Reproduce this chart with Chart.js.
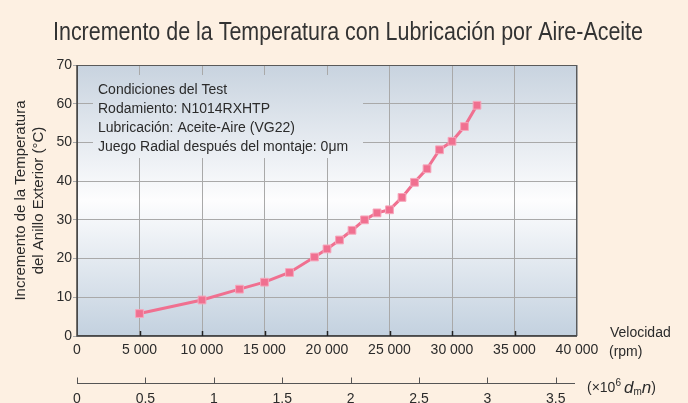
<!DOCTYPE html>
<html>
<head>
<meta charset="utf-8">
<script src="https://cdn.jsdelivr.net/npm/chart.js@4"></script>
<style>
  html, body { margin: 0; padding: 0; background: #fdf0e2; }
  canvas { display: block; }
</style>
</head>
<body>
<canvas id="c" width="688" height="403"></canvas>
<script>
// Outer-ring temperature rise vs. shaft speed (oil-air lubrication)
const speedRpm = [5000, 10000, 13000, 15000, 17000, 19000, 20000, 21000, 22000, 23000,
                  24000, 25000, 26000, 27000, 28000, 29000, 30000, 31000, 32000];
const tempRise = [5.8, 9.3, 12.1, 13.9, 16.4, 20.4, 22.5, 24.8, 27.3, 30.0,
                  31.8, 32.6, 35.8, 39.7, 43.2, 48.1, 50.3, 54.1, 59.6];

const speedTicks = [0, 5000, 10000, 15000, 20000, 25000, 30000, 35000, 40000];
const tempTicks = [0, 10, 20, 30, 40, 50, 60, 70];
const dmnTicks = [0, 0.5, 1, 1.5, 2, 2.5, 3, 3.5];
const dmnAtMaxSpeed = 3.655; // dm·n (×10^6) reached at 40 000 rpm

const titleText = 'Incremento de la Temperatura con Lubricación por Aire-Aceite';
const yTitle = ['Incremento de la Temperatura', 'del Anillo Exterior (°C)'];
const testConditions = [
  'Condiciones del Test',
  'Rodamiento: N1014RXHTP',
  'Lubricación: Aceite-Aire (VG22)',
  'Juego Radial después del montaje: 0μm'
];

const FONT = "'Liberation Sans', Arial, Helvetica, sans-serif";
const NARROW = "'Liberation Sans Narrow', 'Liberation Sans', Arial, sans-serif";
const TEXT = '#2b2b2b';
const GRID = '#a9a9a9';
const FRAME = '#5a5a5a';

function spaced(v) {
  return String(v).replace(/\B(?=(\d{3})+(?!\d))/g, ' ');
}

let areaGradient = null;
function plotGradient(ctx, a) {
  const g = ctx.createLinearGradient(0, a.top, 0, a.bottom);
  g.addColorStop(0, '#c8d3df');
  g.addColorStop(0.5, '#fdfdfe');
  g.addColorStop(1, '#c3d1df');
  return g;
}

const decor = {
  id: 'decor',
  beforeDraw(chart) {
    const { ctx, chartArea: a } = chart;
    ctx.save();
    ctx.fillStyle = '#fdf0e2';
    ctx.fillRect(0, 0, chart.width, chart.height);
    areaGradient = plotGradient(ctx, a);
    ctx.fillStyle = areaGradient;
    ctx.fillRect(a.left, a.top, a.right - a.left, a.bottom - a.top);

    // heading, condensed to its line width
    ctx.font = '26px ' + NARROW;
    ctx.fillStyle = '#333';
    ctx.textBaseline = 'alphabetic';
    ctx.textAlign = 'center';
    const w = ctx.measureText(titleText).width;
    const sx = Math.min(1, 590 / w);
    ctx.translate(348, 40);
    ctx.scale(sx, 1);
    ctx.fillText(titleText, 0, 0);
    ctx.restore();
  },
  beforeDatasetsDraw(chart) {
    const { ctx, chartArea: a, scales } = chart;
    ctx.save();
    // test-conditions panel, cut out of the grid
    const bx = a.left + 16, by = a.top + 10;
    ctx.fillStyle = areaGradient;
    ctx.fillRect(bx, by, 270, 83);
    ctx.font = '14px ' + FONT;
    ctx.fillStyle = TEXT;
    ctx.textBaseline = 'middle';
    ctx.textAlign = 'left';
    testConditions.forEach((t, i) => ctx.fillText(t, a.left + 21, a.top + 25 + i * 19));

    // frame
    ctx.strokeStyle = FRAME;
    ctx.lineWidth = 1;
    ctx.strokeRect(a.left + 0.5, a.top + 0.5, a.right - a.left - 1, a.bottom - a.top - 1);
    ctx.lineWidth = 1.5;
    ctx.strokeStyle = '#444';
    ctx.beginPath();
    ctx.moveTo(a.left, a.top);
    ctx.lineTo(a.left, a.bottom);
    ctx.lineTo(a.right, a.bottom);
    ctx.stroke();

    // inner tick marks on the speed axis
    ctx.strokeStyle = '#222';
    ctx.lineWidth = 1.5;
    speedTicks.slice(1, -1).forEach(v => {
      const x = Math.round(scales.x.getPixelForValue(v)) + 0.5;
      ctx.beginPath();
      ctx.moveTo(x, a.bottom);
      ctx.lineTo(x, a.bottom - 5);
      ctx.stroke();
    });
    ctx.restore();
  },
  afterDraw(chart) {
    const { ctx, chartArea: a, scales } = chart;
    const s2 = scales.x2;
    ctx.save();
    // dm·n axis line with upward ticks
    const ly = Math.round(s2.top + 21) + 0.5;
    ctx.strokeStyle = '#555';
    ctx.lineWidth = 1;
    ctx.beginPath();
    ctx.moveTo(a.left, ly);
    ctx.lineTo(a.right - 2, ly);
    dmnTicks.forEach(v => {
      const x = Math.round(s2.getPixelForValue(v)) + 0.5;
      ctx.moveTo(x, ly);
      ctx.lineTo(x, ly - 6);
    });
    ctx.stroke();

    // unit labels at the right end of the axes
    ctx.fillStyle = TEXT;
    ctx.textBaseline = 'middle';
    ctx.textAlign = 'left';
    ctx.font = '14px ' + FONT;
    ctx.fillText('Velocidad', a.right + 33, a.bottom - 3);
    ctx.fillText('(rpm)', a.right + 32, a.bottom + 16);

    let x = a.right + 10;
    const y = ly + 5;
    const put = (t, font, dy) => {
      ctx.font = font;
      ctx.fillText(t, x, y + dy);
      x += ctx.measureText(t).width;
    };
    put('(×10', '14px ' + FONT, 0);
    put('6', '10px ' + FONT, -5);
    x += 3;
    put('d', 'italic 17px ' + FONT, 0);
    put('m', '10px ' + FONT, 4);
    put('n', 'italic 17px ' + FONT, 0);
    put(')', '14px ' + FONT, 0);
    ctx.restore();
  }
};

new Chart(document.getElementById('c'), {
  type: 'line',
  data: {
    datasets: [{
      data: speedRpm.map((v, i) => ({ x: v, y: tempRise[i] })),
      borderColor: '#f07090',
      borderWidth: 3,
      pointStyle: 'rect',
      pointRadius: 5.5,
      pointHoverRadius: 5.5,
      pointBackgroundColor: '#f07090',
      pointBorderColor: '#f6a6bb',
      pointBorderWidth: 1,
      tension: 0
    }]
  },
  options: {
    responsive: false,
    animation: false,
    events: [],
    layout: { padding: { left: 0, right: 111, top: 65, bottom: 0 } },
    plugins: {
      legend: { display: false },
      tooltip: { enabled: false },
      title: { display: false }
    },
    scales: {
      x: {
        type: 'linear',
        position: 'bottom',
        weight: 0,
        min: 0,
        max: 40000,
        afterBuildTicks: s => { s.ticks = speedTicks.map(v => ({ value: v })); },
        afterFit: s => { s.height = 26; },
        ticks: {
          color: TEXT,
          font: { family: FONT, size: 14 },
          padding: 6,
          maxRotation: 0,
          autoSkip: false,
          callback: v => spaced(v)
        },
        grid: { color: GRID, lineWidth: 1, drawTicks: false },
        border: { display: false }
      },
      x2: {
        type: 'linear',
        position: 'bottom',
        weight: 1,
        min: 0,
        max: dmnAtMaxSpeed,
        afterBuildTicks: s => { s.ticks = dmnTicks.map(v => ({ value: v })); },
        afterFit: s => { s.height = 41; },
        ticks: {
          color: TEXT,
          font: { family: FONT, size: 14 },
          padding: 29,
          maxRotation: 0,
          autoSkip: false,
          callback: v => String(v)
        },
        grid: { display: false, drawTicks: false },
        border: { display: false }
      },
      y: {
        type: 'linear',
        min: 0,
        max: 70,
        afterBuildTicks: s => { s.ticks = tempTicks.map(v => ({ value: v })); },
        afterFit: s => { s.width = 77; },
        ticks: {
          color: TEXT,
          font: { family: FONT, size: 14 },
          padding: 1
        },
        grid: { color: GRID, lineWidth: 1, drawTicks: true, tickLength: 4 },
        border: { display: false },
        title: {
          display: true,
          text: yTitle,
          color: TEXT,
          font: { family: FONT, size: 15, lineHeight: 1.2 },
          padding: { top: 12, bottom: 0 }
        }
      }
    }
  },
  plugins: [decor]
});
</script>
</body>
</html>
